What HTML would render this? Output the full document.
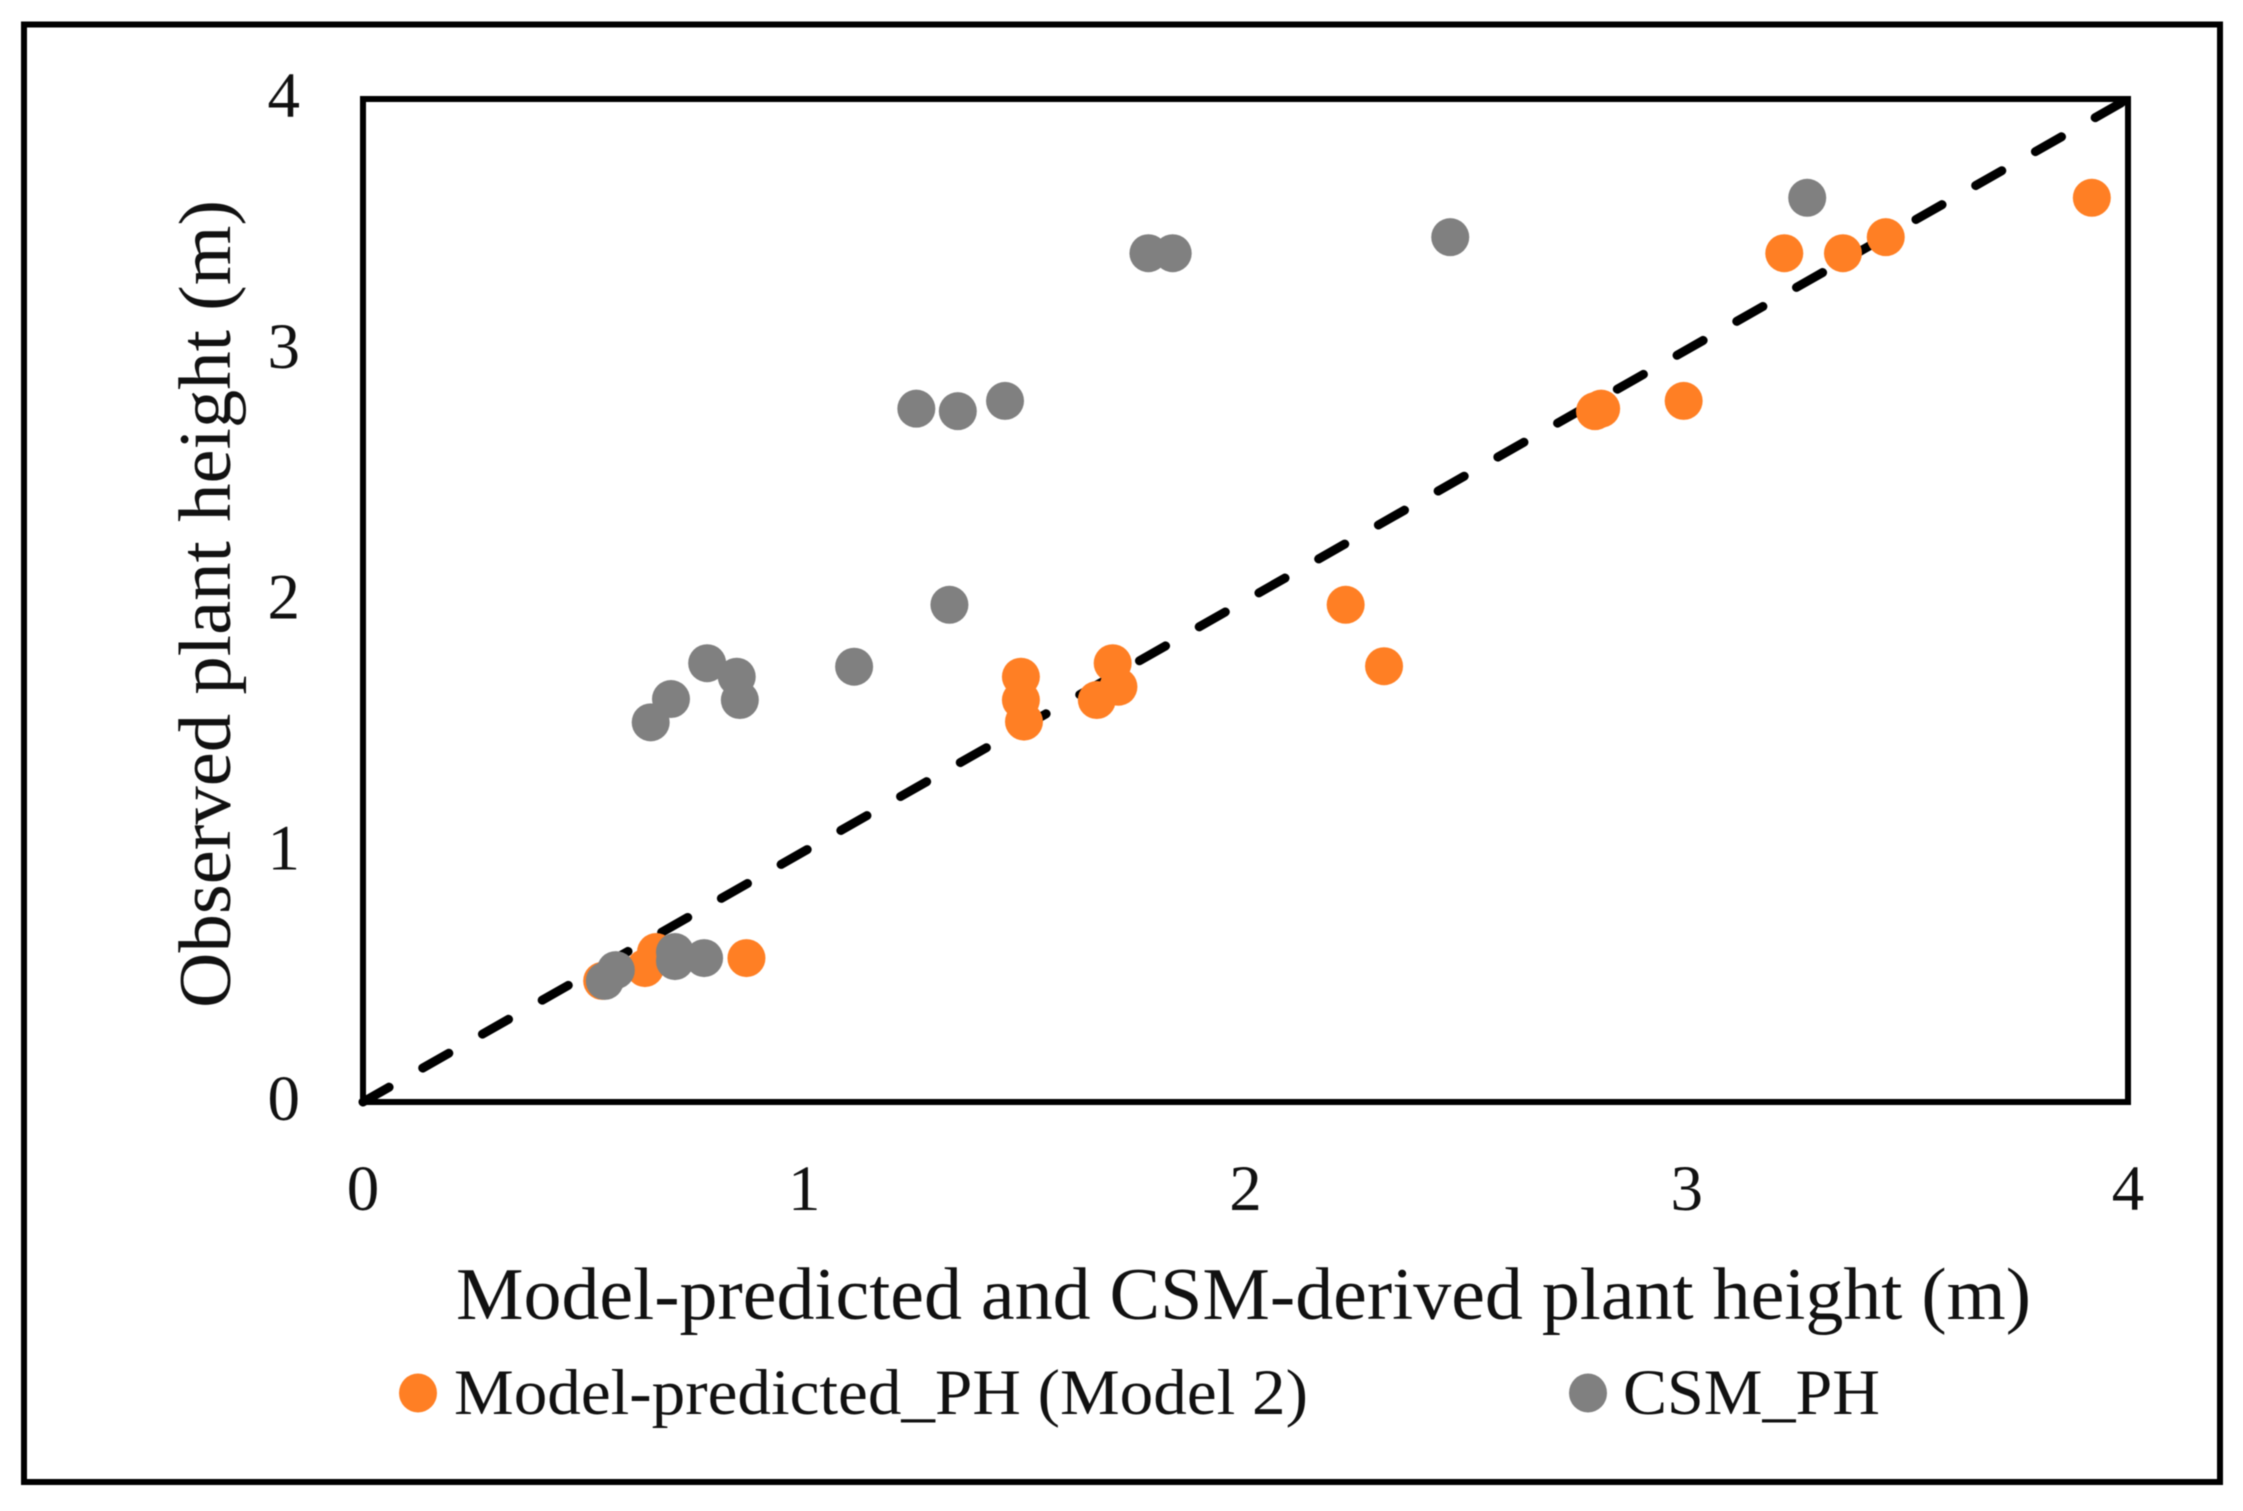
<!DOCTYPE html>
<html lang="en">
<head>
<meta charset="utf-8">
<title>Observed vs predicted plant height</title>
<style>
  html, body { margin: 0; padding: 0; background: #fff; }
  svg { display: block; filter: blur(0.6px); }
  text { font-family: "Liberation Serif", "DejaVu Serif", serif; fill: #111; }
</style>
</head>
<body>
<svg id="chart" xmlns="http://www.w3.org/2000/svg" width="2243" height="1511" viewBox="0 0 2243 1511">
  <rect x="0" y="0" width="2243" height="1511" fill="#fff"/>
  <rect x="24" y="24.5" width="2196" height="1457.5" fill="none" stroke="#000" stroke-width="6"/>
  <g id="marks"></g>
  <rect x="363" y="99" width="1765" height="1003" fill="none" stroke="#000" stroke-width="6"/>
  <g id="ticks"></g>
  <text x="456" y="1319" font-size="74" textLength="1575" lengthAdjust="spacingAndGlyphs">Model-predicted and CSM-derived plant height (m)</text>
  <text transform="translate(230,1008) rotate(-90)" x="0" y="0" font-size="74" textLength="808" lengthAdjust="spacingAndGlyphs">Observed plant height (m)</text>
  <g>
    <ellipse cx="418" cy="1393" rx="19" ry="19.5" fill="#FF7F24"/>
    <text x="454" y="1414" font-size="65" textLength="854" lengthAdjust="spacingAndGlyphs">Model-predicted_PH (Model 2)</text>
    <ellipse cx="1588" cy="1393" rx="19" ry="19.5" fill="#808080"/>
    <text x="1623" y="1414" font-size="65" textLength="257" lengthAdjust="spacingAndGlyphs">CSM_PH</text>
  </g>
</svg>
<script>
const xTickValues = [0, 1, 2, 3, 4];
const yTickValues = [0, 1, 2, 3, 4];
const lineX = [0, 4];
const lineY = [0, 4];
const modelX = [3.918, 3.451, 3.354, 3.221, 2.993, 2.806, 2.792, 2.227, 2.314, 1.699, 1.712, 1.663, 1.491, 1.491, 1.498, 0.869, 0.664, 0.639, 0.542];
const modelY = [3.606, 3.449, 3.385, 3.385, 2.796, 2.765, 2.755, 1.983, 1.738, 1.750, 1.656, 1.603, 1.696, 1.603, 1.517, 0.574, 0.598, 0.534, 0.483];
const csmX = [3.273, 2.464, 1.835, 1.780, 1.455, 1.348, 1.254, 1.329, 1.113, 0.780, 0.847, 0.854, 0.698, 0.652, 0.773, 0.707, 0.707, 0.573, 0.548];
const csmY = [3.606, 3.449, 3.385, 3.385, 2.796, 2.755, 2.765, 1.983, 1.736, 1.750, 1.696, 1.603, 1.607, 1.514, 0.574, 0.598, 0.562, 0.526, 0.483];

const NS = 'http://www.w3.org/2000/svg';
const scaleX = v => 363 + v * (2128 - 363) / 4;
const scaleY = v => 1102 - v * (1102 - 99) / 4;
const marks = document.getElementById('marks');
const ticks = document.getElementById('ticks');

const line = document.createElementNS(NS, 'line');


line.setAttribute('x1', scaleX(lineX[0]));
line.setAttribute('y1', scaleY(lineY[0]));
line.setAttribute('x2', scaleX(lineX[1]));
line.setAttribute('y2', scaleY(lineY[1]));
line.setAttribute('stroke', '#000');
line.setAttribute('stroke-width', '9');
line.setAttribute('stroke-linecap', 'round');
line.setAttribute('stroke-dasharray', '30 38.7');
marks.appendChild(line);

modelX.forEach((x, i) => {
  const c = document.createElementNS(NS, 'circle');
  
  
  c.setAttribute('cx', scaleX(x));
  c.setAttribute('cy', scaleY(modelY[i]));
  c.setAttribute('r', '19');
  c.setAttribute('fill', '#FF7F24');
  marks.appendChild(c);
});

csmX.forEach((x, i) => {
  const c = document.createElementNS(NS, 'circle');
  
  
  c.setAttribute('cx', scaleX(x));
  c.setAttribute('cy', scaleY(csmY[i]));
  c.setAttribute('r', '19');
  c.setAttribute('fill', '#808080');
  marks.appendChild(c);
});

xTickValues.forEach(v => {
  const t = document.createElementNS(NS, 'text');
  
  
  t.setAttribute('x', scaleX(v));
  t.setAttribute('y', 1210);
  t.setAttribute('font-size', '65');
  t.setAttribute('text-anchor', 'middle');
  t.textContent = v;
  ticks.appendChild(t);
});

yTickValues.forEach(v => {
  const t = document.createElementNS(NS, 'text');
  
  
  t.setAttribute('x', 300);
  t.setAttribute('y', scaleY(v) + 18);
  t.setAttribute('font-size', '65');
  t.setAttribute('text-anchor', 'end');
  t.textContent = v;
  ticks.appendChild(t);
});
</script>
</body>
</html>
